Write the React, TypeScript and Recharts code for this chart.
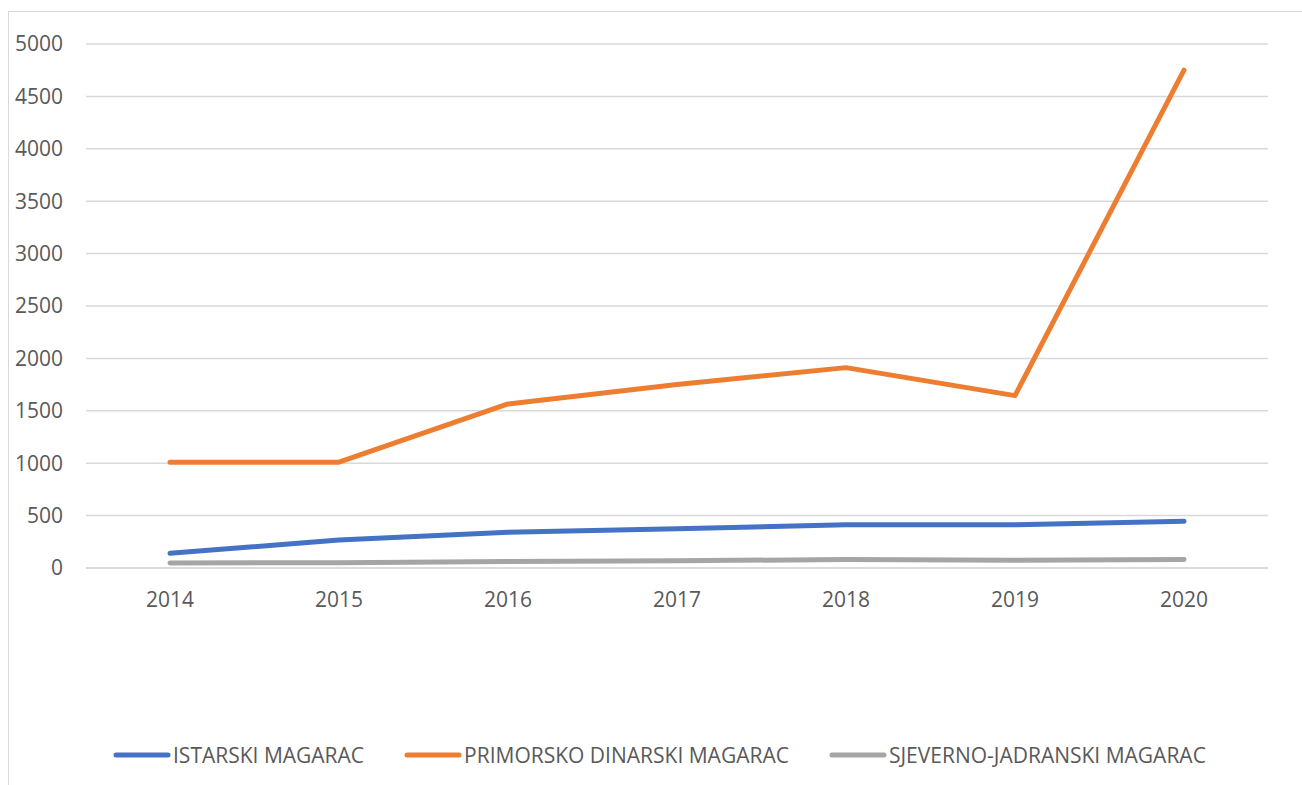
import React from 'react';
import { LineChart, Line, XAxis, YAxis, CartesianGrid, Legend } from 'recharts';

const years = ['2014', '2015', '2016', '2017', '2018', '2019', '2020'];
const istarski = [140, 268, 340, 375, 412, 412, 445];
const primorsko = [1010, 1010, 1565, 1750, 1912, 1645, 4750];
const sjevernoJadranski = [48, 50, 63, 70, 80, 75, 80];
const yTicks = [0, 500, 1000, 1500, 2000, 2500, 3000, 3500, 4000, 4500, 5000];

const series = [
  { key: 'istarski', name: 'ISTARSKI MAGARAC', color: '#4472C4' },
  { key: 'primorsko', name: 'PRIMORSKO DINARSKI MAGARAC', color: '#ED7D31' },
  { key: 'sjeverno', name: 'SJEVERNO-JADRANSKI MAGARAC', color: '#A5A5A5' },
];

const data = years.map((year, i) => ({
  year,
  istarski: istarski[i],
  primorsko: primorsko[i],
  sjeverno: sjevernoJadranski[i],
}));

const FONT = '"Open Sans", "Liberation Sans", sans-serif';
const TEXT = '#595959';

const LegendContent = () => (
  <div
    style={{
      display: 'flex',
      alignItems: 'center',
      height: 40,
      paddingLeft: 104,
      gap: 40,
      fontFamily: FONT,
      fontSize: 21,
      color: TEXT,
    }}
  >
    {series.map((s) => (
      <div key={s.key} style={{ display: 'flex', alignItems: 'center' }}>
        <svg width={58} height={10}>
          <line x1={3} y1={5} x2={55} y2={5} stroke={s.color} strokeWidth={5} strokeLinecap="round" />
        </svg>
        <span style={{ marginLeft: 2 }}>{s.name}</span>
      </div>
    ))}
  </div>
);

export default function App() {
  return (
    <div>
      <style>{'html,body{margin:0;overflow:hidden;}'}</style>
      <div
        style={{
          position: 'absolute',
          left: 8,
          top: 11,
          width: 1300,
          height: 780,
          border: '1px solid #d9d9d9',
          background: '#fff',
          overflow: 'hidden',
        }}
      >
        <LineChart
          width={1290}
          height={772}
          data={data}
          margin={{ top: 32, right: 31, bottom: 9, left: 0 }}
        >
          <CartesianGrid vertical={false} stroke="#d9d9d9" strokeWidth={1.5} />
          <XAxis
            dataKey="year"
            height={167}
            padding={{ left: 84, right: 84 }}
            tickSize={0}
            tickMargin={24}
            axisLine={{ stroke: '#d9d9d9', strokeWidth: 1.5 }}
            tick={{ fill: TEXT, fontSize: 21, fontFamily: FONT }}
          />
          <YAxis
            width={77}
            domain={[0, 5000]}
            ticks={yTicks}
            tickSize={0}
            tickMargin={23}
            axisLine={false}
            tickLine={false}
            tick={{ fill: TEXT, fontSize: 21, fontFamily: FONT }}
          />
          <Legend
            verticalAlign="bottom"
            height={40}
            wrapperStyle={{ left: 0, width: 1290 }}
            content={<LegendContent />}
          />
          {series.map((s) => (
            <Line
              key={s.key}
              type="linear"
              dataKey={s.key}
              name={s.name}
              stroke={s.color}
              strokeWidth={5}
              strokeLinecap="round"
              strokeLinejoin="round"
              dot={false}
              activeDot={false}
              isAnimationActive={false}
            />
          ))}
        </LineChart>
      </div>
    </div>
  );
}
